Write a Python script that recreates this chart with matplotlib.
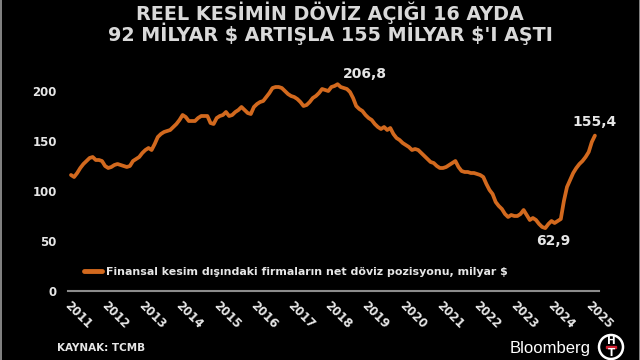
import matplotlib
matplotlib.use("Agg")
import matplotlib.pyplot as plt
import numpy as np
from matplotlib.patches import Ellipse, Rectangle
from matplotlib.lines import Line2D

# Monthly net FX position of non-financial firms, billion $ (Jan 2011 - Feb 2025)
v2011 = [116, 114, 118, 123, 127, 130, 133, 134, 131, 131, 130, 125]
v2012 = [123, 124, 126, 127, 126, 125, 124, 125, 130, 132, 134, 138]
v2013 = [141, 143, 141, 147, 154, 157, 159, 160, 161, 164, 167, 171]
v2014 = [176, 174, 170, 170, 170, 173, 175, 175, 175, 168, 167, 173]
v2015 = [175, 176, 179, 175, 176, 179, 181, 184, 181, 178, 177, 184]
v2016 = [187, 189, 190, 194, 198, 203, 204, 204, 203, 200, 197, 195]
v2017 = [194, 192, 189, 185, 186, 189, 193, 195, 198, 202, 201, 200]
v2018 = [204, 205, 206.8, 204, 203, 202, 199, 193, 185, 182, 180, 176]
v2019 = [173, 171, 167, 164, 162, 164, 161, 163, 157, 153, 151, 148]
v2020 = [146, 144, 141, 142, 141, 138, 135, 132, 129, 128, 125, 123]
v2021 = [123, 124, 126, 128, 130, 124, 120, 119, 119, 118, 118, 117]
v2022 = [116, 114, 107, 101, 97, 89, 85, 82, 77, 74, 76, 75]
v2023 = [75, 77, 81, 76, 71, 73, 71, 67, 64, 62.9, 67, 70]
v2024 = [68, 70, 72, 90, 104, 111, 118, 123, 127, 130, 134, 139]
v2025 = [149, 155.4]

values = np.array(v2011 + v2012 + v2013 + v2014 + v2015 + v2016 + v2017 + v2018
                  + v2019 + v2020 + v2021 + v2022 + v2023 + v2024 + v2025, dtype=float)
dates = 2011 + np.arange(len(values)) / 12.0

years = list(range(2011, 2026))
yticks = [0, 50, 100, 150, 200]
ytick_labels = ["0", "50", "100", "150", "200"]

title1 = "REEL KESİMİN DÖVİZ AÇIĞI 16 AYDA"
title2 = "92 MİLYAR \\$ ARTIŞLA 155 MİLYAR \\$'I AŞTI"
legend_label = "Finansal kesim dışındaki firmaların net döviz pozisyonu, milyar \\$"
source = "KAYNAK: TCMB"

ORANGE = "#d2691e"
TXT = "#e6e6e6"

W, H = 640, 360
fig = plt.figure(figsize=(6.4, 3.6), dpi=100, facecolor="black")

ax_l, ax_r = 68, 599
ax_b, ax_t = 291, 76
ax = fig.add_axes([ax_l / W, 1 - ax_b / H, (ax_r - ax_l) / W, (ax_b - ax_t) / H])
ax.set_facecolor("black")
x0 = 2011 - 3 / 37.2
ax.set_xlim(x0, x0 + (ax_r - ax_l) / 37.2)
ax.set_ylim(0, ax_b - ax_t)

line, = ax.plot(dates, values, color=ORANGE, lw=2.7, solid_joinstyle="round",
                solid_capstyle="round", label=legend_label)
ax.axhline(0, color="#8c8c8c", lw=1.5, clip_on=False)

for s in ax.spines.values():
    s.set_visible(False)

ax.set_yticks(yticks)
ax.set_yticklabels(ytick_labels)
ax.set_xticks(years)
ax.set_xticklabels([str(y) for y in years], rotation=-45, ha="left", va="top",
                   rotation_mode="anchor")
ax.tick_params(axis="both", length=0, colors=TXT, labelsize=8.5)
ax.tick_params(axis="y", pad=8)
ax.tick_params(axis="x", pad=6)
for lab in ax.get_xticklabels() + ax.get_yticklabels():
    lab.set_fontweight("bold")
    lab.set_color(TXT)

# annotations
imax = int(np.argmax(values))
imin = int(np.argmin(values))
ax.annotate(f"{values[imax]:.1f}".replace(".", ","), (dates[imax], values[imax]),
            xytext=(27, 10), textcoords="offset pixels", ha="center", va="center",
            color=TXT, fontsize=10, fontweight="bold")
ax.annotate(f"{values[-1]:.1f}".replace(".", ","), (dates[-1], values[-1]),
            xytext=(0, 14), textcoords="offset pixels", ha="center", va="center",
            color=TXT, fontsize=10, fontweight="bold")
ax.annotate(f"{values[imin]:.1f}".replace(".", ","), (dates[imin], values[imin]),
            xytext=(8, -13), textcoords="offset pixels", ha="center", va="center",
            color=TXT, fontsize=10, fontweight="bold")

leg = ax.legend(handles=[line], loc="center left", bbox_to_anchor=(84 / W, 1 - 272 / H),
                bbox_transform=fig.transFigure, frameon=False, handlelength=1.6,
                handletextpad=0.4, borderaxespad=0, borderpad=0,
                prop={"weight": "bold", "size": 7.9})
for t in leg.get_texts():
    t.set_color(TXT)
for h in leg.get_lines():
    h.set_linewidth(3.5)

# titles
fig.text(330 / W, 1 - 13 / H, title1, ha="center", va="center", color="#d9d9d9",
         fontsize=13.8, fontweight="bold")
fig.text(330 / W, 1 - 34 / H, title2, ha="center", va="center", color="#d9d9d9",
         fontsize=13.8, fontweight="bold")

fig.text(57 / W, 1 - 348 / H, source, ha="left", va="center", color=TXT,
         fontsize=7.5, fontweight="bold")

# Bloomberg HT logo
fig.text(591 / W, 1 - 348 / H, "Bloomberg", ha="right", va="center", color="white",
         fontsize=12, family="Liberation Sans")
cx, cy, r = 611, 347, 12
fig.add_artist(Ellipse((cx / W, 1 - cy / H), 2 * r / W, 2 * r / H,
                       transform=fig.transFigure, fill=False, edgecolor="white", lw=1.8))
fig.text(cx / W, 1 - (cy - 5.5) / H, "H", ha="center", va="center", color="white",
         fontsize=7.5, fontweight="bold")
fig.text(cx / W, 1 - (cy + 6) / H, "T", ha="center", va="center", color="white",
         fontsize=7.5, fontweight="bold")
fig.add_artist(Rectangle(((cx - 5) / W, 1 - (cy + 1.2) / H), 10 / W, 2.4 / H,
                         transform=fig.transFigure, color="#d02030"))

# side borders
fig.add_artist(Line2D([0.5 / W, 0.5 / W], [0, 1], transform=fig.transFigure,
                      color="#9a9a9a", lw=1.2))
fig.add_artist(Line2D([1 - 0.5 / W, 1 - 0.5 / W], [0, 1], transform=fig.transFigure,
                      color="#9a9a9a", lw=1.2))

fig.savefig("out.png", dpi=100, facecolor="black")
